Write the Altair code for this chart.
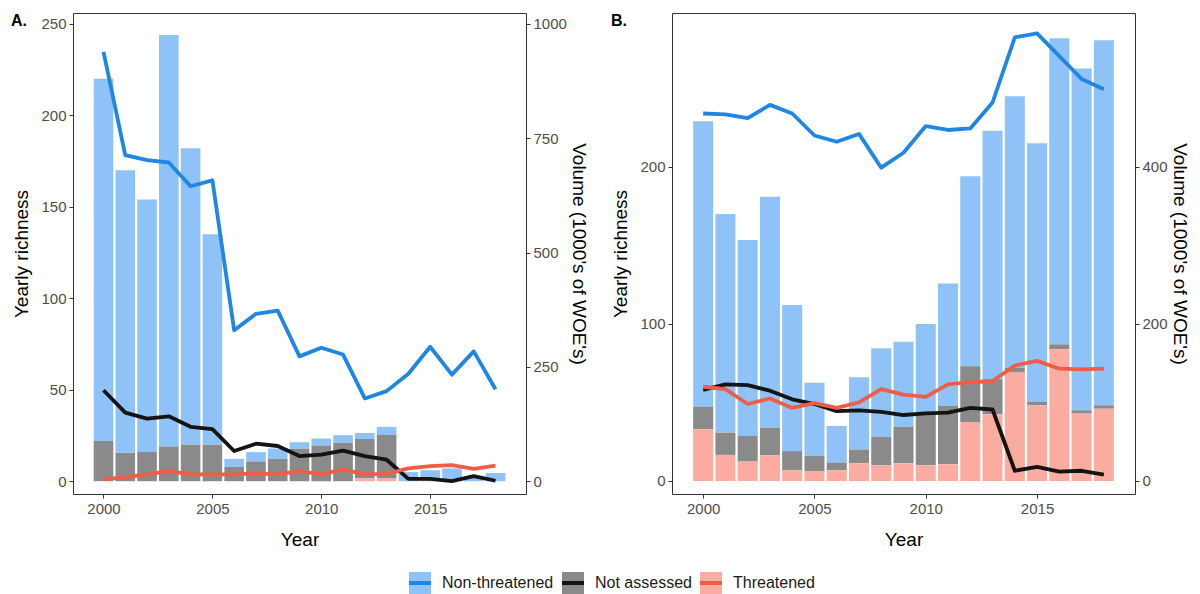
import altair as alt
import pandas as pd

years = list(range(2000, 2019))
categories = ["Non-threatened", "Not assessed", "Threatened"]
stack_order = {"Threatened": 0, "Not assessed": 1, "Non-threatened": 2}

# Panel A – yearly richness (stack components)
a_rich_nt = [198, 154.5, 138, 225, 162, 115, 4.4, 5.1, 5.7, 3.6, 3.8, 4.2, 3.3, 4.5, 5, 6, 7, 2, 4.5]
a_rich_na = [22, 15.5, 16, 19, 20, 20, 7.8, 10.8, 12.2, 17.7, 19.5, 21, 21.6, 23.7, 0, 0, 0, 0, 0]
a_rich_thr = [0, 0, 0, 0, 0, 0, 0, 0, 0, 0, 0, 0, 1.5, 1.5, 0, 0, 0, 0, 0]
# Panel A – volume (1000's of WOE's)
a_vol_nt = [939, 713, 702, 697, 645, 658, 330, 366, 373, 273, 292, 277, 181, 197, 235, 294, 233, 284, 201]
a_vol_na = [199, 150, 137, 142, 119, 114, 66, 82, 77, 55, 58, 67, 55, 47, 5, 5, 0, 11, 1]
a_vol_thr = [4, 9, 15, 22, 15, 15, 15, 17, 15, 22, 15, 26, 15, 16, 28, 33, 35, 27, 34]

# Panel B – yearly richness (stack components)
b_rich_nt = [181.7, 139.2, 124.8, 147, 93, 46.6, 23.3, 46, 56.3, 54.1, 57.5, 77.9, 121, 158.2, 173, 164.7, 195, 217.6, 232.5]
b_rich_na = [14.3, 14.2, 16, 17.7, 12.2, 9.6, 4.9, 8.7, 18.2, 23.3, 32.5, 37.2, 35.4, 22.3, 3, 2.1, 3.1, 2.1, 2.2]
b_rich_thr = [33, 16.6, 12.7, 16.3, 6.8, 6.4, 6.8, 11.3, 10, 11.3, 10, 10.6, 37.6, 42.5, 69, 48.2, 83.9, 42.9, 46]
# Panel B – volume
b_vol_nt = [468, 467, 462, 479, 468, 440, 432, 442, 399, 418, 452, 447, 449, 482, 565, 570, 541, 512, 499]
b_vol_na = [116, 123, 122, 115, 104, 98, 89, 90, 88, 84, 86, 87, 93, 91, 13, 18, 12, 13, 8]
b_vol_thr = [120, 117, 98, 105, 93, 99, 93, 100, 117, 110, 107, 123, 126, 127, 147, 153, 143, 142, 143]

x_ticks = [2000, 2005, 2010, 2015]
a_rich_ticks = [0, 50, 100, 150, 200, 250]
a_vol_ticks = [0, 250, 500, 750, 1000]
b_rich_ticks = [0, 100, 200]
b_vol_ticks = [0, 200, 400]

fill_colors = ["#8FC3F8", "#8A8A8A", "#F9AC9F"]
line_colors = ["#1F87E3", "#141414", "#EE5E47"]
line_keys = [c + "_vol" for c in categories]

FONT = "Liberation Sans"


def bars_df(nt, na, thr):
    rows = []
    for i, y in enumerate(years):
        for cat, vals in zip(categories, [nt, na, thr]):
            rows.append({"year": y, "cat": cat, "value": vals[i], "ord": stack_order[cat]})
    return pd.DataFrame(rows)


def lines_df(nt, na, thr):
    rows = []
    for i, y in enumerate(years):
        for cat, vals in zip(categories, [nt, na, thr]):
            rows.append({"year": y, "series": cat, "vol": vals[i]})
    return pd.DataFrame(rows)


legend_common = dict(
    orient="none", legendX=334, legendY=557, direction="horizontal", title=None,
    labelFontSize=16, labelOffset=9, columnPadding=0, padding=0,
    labelFont=FONT, symbolSize=484, symbolStrokeWidth=4,
)
fill_legend = alt.Legend(
    symbolType="square", symbolStrokeColor="transparent", symbolOpacity=1,
    labelColor="#1A1A1A", zindex=0, **legend_common,
)
stroke_legend = alt.Legend(
    symbolType="stroke", labelOpacity=0,
    labelExpr="replace(datum.label, '_vol', '')", zindex=1, **legend_common,
)


def panel(bdf, ldf, ydom, vdom, yticks, vticks, label, width, xlabel_x):
    xsc = alt.Scale(domain=[1998.6, 2019.4], nice=False, zero=False)
    xaxis = alt.Axis(values=x_ticks, format="d", title="Year")
    bars = alt.Chart(bdf).transform_stack(
        stack="value", groupby=["year"], as_=["y0", "y1"], sort=[alt.SortField("ord", order="ascending")]
    ).transform_calculate(
        x0="datum.year - 0.45", x1="datum.year + 0.45"
    ).mark_rect().encode(
        x=alt.X("x0:Q", scale=xsc, axis=xaxis),
        x2="x1:Q",
        y=alt.Y("y0:Q", scale=alt.Scale(domain=ydom, nice=False, zero=False),
                axis=alt.Axis(values=yticks, format="d", title="Yearly richness", orient="left", titlePadding=9)),
        y2="y1:Q",
        fill=alt.Fill("cat:N", scale=alt.Scale(domain=categories, range=fill_colors), legend=fill_legend),
    )
    lines = alt.Chart(ldf).transform_calculate(
        key="datum.series + '_vol'"
    ).mark_line(strokeWidth=3.8, strokeJoin="round").encode(
        x=alt.X("year:Q", scale=xsc, axis=xaxis),
        y=alt.Y("vol:Q", scale=alt.Scale(domain=vdom, nice=False, zero=False),
                axis=alt.Axis(values=vticks, format="d", title="Volume (1000's of WOE's)", orient="right",
                              titleAngle=90, titlePadding=2)),
        stroke=alt.Stroke("key:N", scale=alt.Scale(domain=line_keys, range=line_colors), legend=stroke_legend),
    )
    lab = alt.Chart(pd.DataFrame({"t": [label]})).mark_text(
        align="left", baseline="top", fontSize=16, fontWeight="bold", font=FONT, color="#000"
    ).encode(x=alt.value(xlabel_x), y=alt.value(0), text="t:N")
    return alt.layer(bars, lines, lab).resolve_scale(y="independent").properties(width=width, height=481)


pa = panel(bars_df(a_rich_nt, a_rich_na, a_rich_thr), lines_df(a_vol_nt, a_vol_na, a_vol_thr),
           [-7, 256], [-28, 1024], a_rich_ticks, a_vol_ticks, "A.", 453, -62)
pb = panel(bars_df(b_rich_nt, b_rich_na, b_rich_thr), lines_df(b_vol_nt, b_vol_na, b_vol_thr),
           [-8.3, 298], [-16.6, 596], b_rich_ticks, b_vol_ticks, "B.", 463, -61)

chart = alt.hconcat(pa, pb, spacing=22).properties(
    padding={"left": 10, "top": 12, "right": 6, "bottom": 0}
).configure_view(
    stroke="#333333", strokeWidth=1
).configure_axis(
    grid=False, domain=False, tickColor="#333333", tickSize=4, tickWidth=1,
    labelColor="#4D4D4D", labelFontSize=15, labelFont=FONT, labelPadding=3,
    titleFont=FONT, titleFontSize=19, titleFontWeight="normal", titleColor="#000000",
).configure_axisX(titlePadding=14)

chart.save("out.html", embed_options={"renderer": "svg", "actions": False})
